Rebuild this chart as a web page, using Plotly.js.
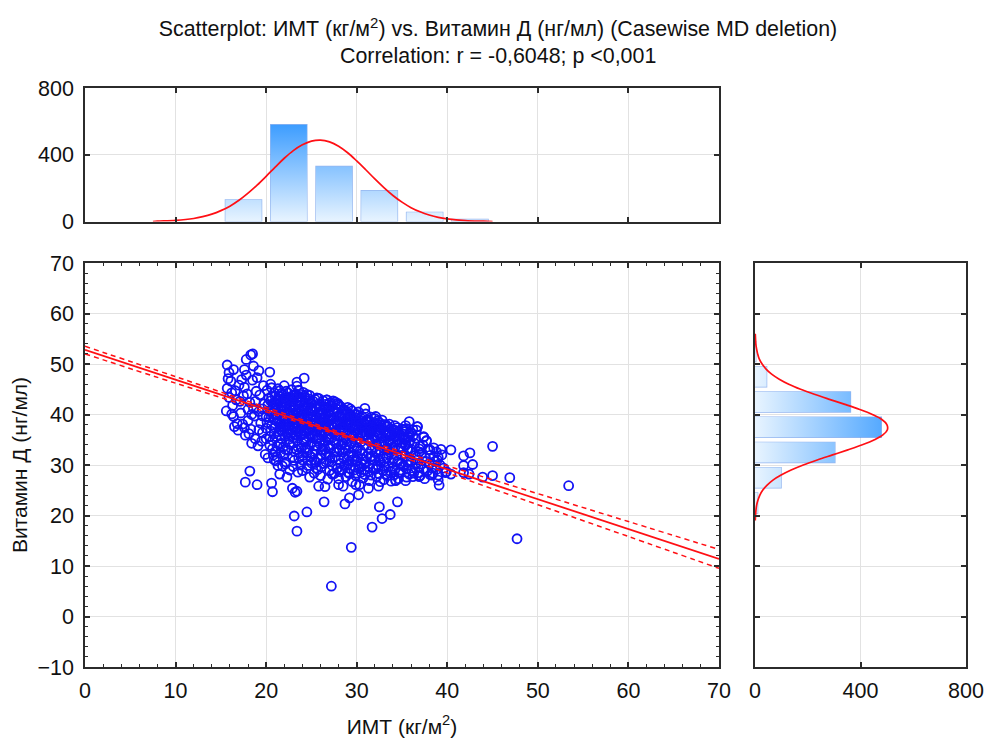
<!DOCTYPE html>
<html><head><meta charset="utf-8">
<script src="https://cdn.plot.ly/plotly-3.0.1.min.js"></script>
<style>html,body{margin:0;padding:0;background:#fff}#c{width:986px;height:738px}</style>
</head><body><div id="c"></div>
<script>
const bmi = [
15.7,15.9,16.1,16.3,16.6,16.8,17.1,17.3,17.6,17.9,
15.8,16.2,16.4,16.7,17.0,17.2,17.5,17.7,17.8,18.0,
16.5,16.9,17.4,17.6,18.1,18.2,18.4,18.5,18.7,18.9,
18.3,18.6,18.8,19.0,19.1,19.3,19.4,19.6,19.7,19.9,
19.2,19.5,19.8,20.0,20.1,20.2,20.3,20.4,20.6,20.7,
20.8,20.9,21.0,21.1,21.2,21.3,21.4,21.5,21.6,21.7,
20.5,20.8,21.0,21.2,21.4,21.6,21.8,21.9,22.0,22.1,
21.1,21.3,21.5,21.7,21.9,22.0,22.2,22.3,22.4,22.5,
20.3,20.7,21.2,21.6,22.1,22.3,22.6,22.7,22.8,22.9,
22.2,22.4,22.6,22.8,23.0,23.1,23.2,23.3,23.4,23.5,
22.5,22.7,22.9,23.0,23.2,23.3,23.5,23.6,23.7,23.8,
23.1,23.4,23.6,23.7,23.9,24.0,24.1,24.2,24.3,24.4,
23.8,23.9,24.0,24.2,24.3,24.5,24.6,24.7,24.8,24.9,
24.1,24.4,24.6,24.7,24.9,25.0,25.1,25.2,25.3,25.4,
24.5,24.8,25.0,25.2,25.4,25.5,25.6,25.7,25.8,25.9,
25.1,25.3,25.5,25.6,25.8,26.0,26.1,26.2,26.3,26.4,
25.7,25.9,26.0,26.2,26.4,26.5,26.6,26.7,26.8,26.9,
26.1,26.3,26.5,26.6,26.8,27.0,27.1,27.2,27.3,27.4,
26.7,26.9,27.0,27.2,27.3,27.5,27.6,27.7,27.8,27.9,
27.4,27.5,27.7,27.8,28.0,28.1,28.2,28.3,28.4,28.5,
27.9,28.0,28.2,28.3,28.5,28.6,28.7,28.8,28.9,29.0,
28.4,28.6,28.7,28.9,29.0,29.1,29.2,29.3,29.4,29.5,
29.0,29.2,29.3,29.5,29.6,29.7,29.8,29.9,30.0,30.1,
29.6,29.8,30.0,30.1,30.2,30.3,30.4,30.5,30.6,30.7,
30.2,30.4,30.6,30.8,30.9,31.0,31.1,31.2,31.3,31.4,
30.8,31.0,31.2,31.3,31.5,31.6,31.7,31.8,31.9,32.0,
31.5,31.7,31.9,32.1,32.2,32.3,32.4,32.5,32.6,32.7,
32.0,32.3,32.5,32.7,32.8,32.9,33.0,33.1,33.2,33.3,
33.0,33.2,33.4,33.5,33.6,33.7,33.8,33.9,34.0,34.1,
33.4,33.6,33.8,34.0,34.2,34.3,34.4,34.5,34.6,34.7,
34.2,34.4,34.6,34.8,34.9,35.0,35.1,35.2,35.3,35.4,
34.8,35.0,35.2,35.4,35.5,35.6,35.7,35.8,35.9,36.0,
35.5,35.8,36.0,36.1,36.2,36.3,36.5,36.6,36.8,37.0,
36.4,36.7,36.9,37.1,37.2,37.4,37.6,37.8,38.0,38.3,
38.1,38.4,38.5,38.6,38.8,39.0,39.2,39.4,39.6,39.8,
20.4,20.9,21.3,21.8,22.1,22.6,23.0,23.5,24.0,24.4,
21.0,21.5,22.0,22.4,22.9,23.3,23.8,24.2,24.7,25.2,
25.6,26.0,26.4,26.9,27.3,27.8,28.1,28.6,29.1,29.6,
21.7,22.3,22.8,23.3,23.9,24.4,25.0,25.5,26.1,26.7,
27.2,27.7,28.3,28.8,29.4,29.9,30.5,31.1,31.6,32.2,
20.1,20.6,21.1,21.6,22.1,22.6,23.1,23.6,24.1,24.6,
25.1,25.6,26.1,26.6,27.1,27.6,28.1,28.6,29.1,29.6,
30.1,30.6,31.1,31.6,32.1,32.6,33.1,33.6,34.1,34.6,
20.2,20.7,21.2,21.7,22.2,22.7,23.2,23.7,24.2,24.7,
25.2,25.7,26.2,26.7,27.2,27.7,28.2,28.7,29.2,29.7,
30.2,30.7,31.2,31.7,32.2,32.7,33.2,33.7,34.2,34.7,
20.9,21.4,21.9,22.4,22.9,23.4,23.9,24.4,24.9,25.4,
25.9,26.4,26.9,27.4,27.9,28.4,28.9,29.4,29.9,30.4,
22.0,22.5,23.0,23.5,24.0,24.5,25.0,25.5,26.0,26.5,
21.4,21.9,22.4,22.9,23.4,23.9,24.4,24.9,25.4,25.9,
26.4,26.9,27.4,27.9,28.4,28.9,29.4,29.9,30.4,30.9,
31.4,31.9,32.4,32.9,33.4,33.9,34.4,34.9,35.4,35.9,
19.6,20.0,20.5,21.0,21.5,22.0,22.5,23.0,23.5,24.0,
24.5,25.0,25.5,26.0,26.5,27.0,27.5,28.0,28.5,29.0,
29.5,30.0,30.5,31.0,31.5,32.0,32.5,33.0,33.5,34.0,
18.0,18.4,18.8,19.2,19.6,20.0,20.4,20.8,21.2,21.6,
23.3,23.7,24.1,24.5,24.9,25.3,25.7,26.1,26.5,26.9,
27.3,27.7,28.1,28.5,28.9,29.3,29.7,30.1,30.5,30.9,
31.3,31.7,32.1,32.5,32.9,33.3,33.7,34.1,34.5,34.9,
35.3,35.7,36.1,36.5,36.9,37.3,37.7,38.1,38.5,38.9,
20.6,21.0,21.4,21.8,22.2,22.6,23.0,23.4,23.8,24.2,
24.6,25.0,25.4,25.8,26.2,26.6,27.0,27.4,27.8,28.2,
28.6,29.0,29.4,29.8,30.2,30.6,31.0,31.4,31.8,32.2,
32.6,33.0,33.4,33.8,34.2,34.6,35.0,35.4,35.8,36.2,
20.9,21.8,22.6,23.5,24.0,24.8,25.3,26.0,26.8,27.3,
28.0,28.8,29.5,30.0,30.7,31.4,32.2,33.0,33.8,34.6,
35.5,36.2,37.0,37.5,38.3,21.3,22.2,23.0,23.8,24.6,
25.5,26.3,27.0,27.8,28.6,29.2,30.2,30.9,31.6,32.4,
33.2,34.0,34.8,35.7,36.5,
18.5,18.3,17.8,15.7,18.6,17.6,20.4,19.2,16.4,15.9,
24.2,23.4,22.0,20.5,26.7,27.6,15.6,16.2,27.4,27.9,
18.2,17.7,19.0,20.6,20.7,21.5,22.3,22.9,23.4,23.2,
26.4,24.5,23.1,23.4,27.2,29.4,31.7,32.8,33.7,32.5,
34.5,28.7,29.2,30.2,25.8,26.5,28.0,28.5,29.9,30.3,
31.3,32.4,32.6,35.4,34.3,36.9,45.0,40.4,42.5,41.8,
42.8,41.8,42.4,41.8,43.9,45.0,46.9,53.4,47.7,39.3,
38.8,39.0,37.4,37.7,36.7,37.9,36.9,39.9,40.4,39.1,
39.0,38.1,34.3,30.9,32.1,32.8,35.8,36.7,37.4,37.7,
35.6,37.9
];
const vitD = [
45.2,43.4,46.6,41.8,44.7,38.2,42.6,46.9,37.4,44.1,
47.1,44.3,39.6,42.9,45.8,40.3,43.7,35.9,47.8,38.8,
37.6,36.9,38.1,45.4,36.2,42.4,34.3,46.8,39.7,44.6,
37.1,41.2,35.2,47.3,33.8,43.9,38.3,36.4,45.7,32.1,
40.6,34.7,42.1,37.3,44.8,31.4,39.4,35.6,45.3,33.2,
41.3,36.2,43.6,30.8,38.7,45.1,34.1,40.2,32.4,44.2,
42.7,39.1,37.4,42.0,36.6,38.1,41.6,33.6,43.3,30.2,
40.0,43.0,44.7,35.2,39.4,37.0,44.6,41.1,32.9,43.2,
43.2,34.9,33.7,41.7,35.7,38.6,40.4,36.3,44.9,31.6,
42.2,39.9,37.8,42.6,34.4,43.9,40.9,38.2,45.6,36.7,
35.1,43.5,40.1,42.7,37.2,33.1,41.9,44.8,39.2,35.8,
30.9,42.8,38.0,43.4,41.0,36.1,44.4,39.5,33.3,42.1,
42.4,37.3,40.0,34.6,43.3,38.6,41.4,35.5,43.8,31.7,
37.7,40.7,29.9,43.1,39.3,42.2,36.0,40.6,33.8,43.0,
44.0,37.0,34.5,42.6,38.8,41.5,36.6,31.2,43.2,39.9,
41.2,37.9,30.5,43.3,35.3,41.9,38.3,33.0,42.7,36.4,
40.3,34.2,37.5,40.8,39.2,42.0,32.2,37.0,41.3,35.1,
29.6,40.1,34.8,41.4,38.7,42.3,36.1,39.7,31.3,41.0,
42.9,39.0,33.4,41.8,37.6,40.4,34.9,38.4,42.1,29.4,
36.3,28.3,41.2,32.6,39.8,37.1,41.6,34.0,38.6,40.9,
35.7,41.9,30.3,39.3,36.7,41.0,33.2,38.0,40.6,28.6,
29.1,35.4,39.4,36.2,40.2,31.9,38.5,41.1,34.3,37.3,
38.0,30.7,39.9,40.7,35.6,33.5,38.9,27.9,40.0,36.4,
39.1,36.9,32.8,38.7,40.5,29.7,37.7,34.6,39.6,31.1,
35.2,39.4,37.0,38.3,33.9,40.1,36.0,28.7,39.0,34.7,
30.1,37.9,38.6,32.2,37.4,39.5,35.0,29.3,38.2,33.6,
36.1,38.0,31.0,37.1,34.1,38.8,28.3,36.4,32.9,37.9,
39.2,30.0,38.4,35.3,37.3,28.9,36.8,33.1,38.0,31.4,
34.6,35.9,37.6,29.6,36.2,32.5,37.2,30.4,35.3,36.9,
27.9,38.1,34.4,37.0,29.0,36.4,32.0,37.4,34.9,28.4,
35.6,36.8,31.0,36.0,33.4,37.1,29.8,35.1,36.6,31.8,
28.6,34.3,36.9,33.9,37.2,30.6,35.6,28.2,32.7,36.4,
29.2,36.2,30.9,33.0,35.7,28.4,31.9,36.9,29.6,33.7,
34.3,31.0,28.5,30.2,32.4,29.2,31.4,28.8,30.3,29.4,
31.9,28.4,33.4,30.7,29.1,28.0,30.0,32.0,29.4,28.5,
40.7,44.3,41.2,43.9,40.1,42.9,41.4,43.5,42.9,38.9,
39.9,42.9,41.4,44.3,38.9,39.9,40.6,41.3,40.2,38.3,
39.3,40.3,41.5,40.4,39.1,40.2,38.6,37.9,39.6,37.7,
37.6,36.1,39.1,35.9,38.1,35.3,40.6,35.1,36.7,38.4,
38.1,36.6,37.4,35.1,35.9,38.0,38.3,37.4,36.6,35.9,
38.4,37.9,35.6,36.9,33.1,34.1,32.7,31.4,31.9,33.0,
32.3,33.8,35.0,30.6,33.9,31.6,33.0,31.2,33.3,31.7,
33.4,32.3,31.7,33.0,29.2,30.7,29.7,34.8,31.3,33.2,
41.9,40.2,39.3,39.8,38.0,41.6,35.9,37.1,37.4,36.8,
36.9,37.8,37.6,35.6,35.3,34.3,35.8,36.6,36.0,36.2,
37.2,35.7,35.1,36.9,38.3,34.1,36.6,35.0,33.4,35.7,
42.4,38.3,37.7,36.4,36.9,37.2,39.7,36.6,41.1,41.3,
41.1,38.0,37.4,37.6,38.3,40.1,39.0,38.2,39.4,36.0,
39.0,40.5,39.4,40.3,38.4,39.7,37.3,38.0,39.2,36.6,
43.7,42.3,37.3,42.0,34.8,33.3,34.6,34.1,35.7,36.7,
34.0,33.3,39.2,33.4,37.2,34.0,32.4,34.9,32.9,36.6,
37.2,35.6,37.6,31.7,33.4,33.1,35.1,31.9,35.2,34.9,
41.1,39.6,36.7,32.6,35.9,32.1,37.0,35.4,33.6,31.0,
32.4,30.4,33.0,31.3,33.1,30.8,32.6,31.1,32.6,30.0,
31.0,30.7,30.3,30.6,31.6,31.4,31.0,30.6,32.2,33.4,
41.0,40.0,42.6,37.0,39.7,35.2,33.9,32.0,31.6,34.3,
44.1,32.4,35.1,29.4,38.3,31.0,29.1,32.0,38.7,31.9,
29.9,35.9,28.7,34.3,31.0,29.3,29.0,31.6,28.6,28.1,
29.6,31.8,32.4,34.2,35.6,32.9,28.8,28.0,30.6,30.3,
34.1,33.1,28.9,35.3,33.2,34.0,30.7,33.0,31.6,31.0,
43.6,41.7,42.4,40.8,43.1,38.9,43.7,40.7,44.0,43.7,
42.7,41.0,37.2,42.1,39.1,38.1,40.9,42.2,41.1,39.4,
39.4,41.4,39.4,40.0,38.4,38.1,38.8,36.3,37.0,36.7,
36.0,38.0,35.8,35.7,37.8,36.4,35.6,37.8,34.4,37.0,
31.0,29.8,29.0,28.6,28.9,27.6,28.4,27.9,27.2,28.2,
27.3,27.7,26.7,28.4,27.4,26.9,27.7,27.1,26.8,27.3,
27.6,27.7,27.9,27.3,28.0,29.9,30.6,29.7,30.0,30.9,
29.4,30.3,28.9,29.3,29.9,28.3,29.3,29.0,28.0,29.6,
28.2,29.4,29.0,30.0,30.4,
52.0,51.8,50.9,49.8,49.6,48.9,48.4,48.7,48.9,48.3,
47.2,46.4,45.7,46.0,42.9,42.5,40.7,40.1,42.7,42.2,
28.8,26.6,26.1,26.4,24.7,28.2,27.6,25.4,24.8,24.6,
22.7,20.7,19.9,16.9,6.0,13.7,17.7,19.4,20.2,21.7,
22.7,22.3,23.5,24.1,25.8,25.7,26.1,25.8,26.1,26.1,
25.4,25.8,26.7,26.9,27.0,27.7,33.7,33.0,32.4,31.8,
30.1,29.9,28.2,28.5,27.6,27.9,27.5,25.9,15.4,33.1,
32.6,31.5,35.6,34.8,37.6,33.0,32.6,28.7,28.2,26.0,
27.0,28.1,26.9,41.2,39.6,38.9,38.6,37.6,35.5,34.8,
33.2,33.0
];
const fitX = [0,10,20,26,30,40,50,60,70];
const fitY = [52.8,46.89,40.97,37.42,35.06,29.14,23.23,17.32,11.4];
const upperY = [53.5,47.5,41.4,37.77,35.44,29.84,24.33,18.8,13.27];
const lowerY = [52.0,46.2,40.52,37.07,34.68,28.44,22.13,15.84,9.53];
const binCenters = [17.5,22.5,27.5,32.5,37.5,42.5];
const bmiCounts = [130,580,330,185,55,12];
const vitDCenters = [22.5,27.5,32.5,37.5,42.5,47.5,52.5];
const vitDCounts = [10,99,303,479,362,44,3];
const curveBmiX = [7.5,8,10,12,13,14,15,16,17,18,19,20,21,22,23,24,25,26,27,28,29,30,31,32,33,34,35,36,37,38,39,40,42,44,45];
const curveBmiY = [0,2,6.5,18,29,44,65,92,127,170,218,271,326,379,425,460,482,488,477,451,412,363,310,255,203,156,116,83,58,39,25,16,5.6,1.7,0];
const curveVitY = [19,20,21,22,23,24,25,26,27,28,29,30,31,32,33,34,35,36,37,38,39,40,41,42,43,44,45,46,47,48,49,50,51,52,53,54,55,56];
const curveVitX = [1,2,3.5,6,11,18,29,46,68,99,137,183,236,294,352,407,453,486,502,500,481,445,397,341,282,225,173,128,92,63,42,27,16,10,6,3,2,1];
const binWidth = 4;
const titleLine1 = 'Scatterplot: ИМТ (кг/м<sup>2</sup>) vs. Витамин Д (нг/мл) (Casewise MD deletion)';
const titleLine2 = 'Correlation: r = -0,6048; p &lt;0,001';
const xTitle = 'ИМТ (кг/м<sup>2</sup>)';
const yTitle = 'Витамин Д (нг/мл)';

const W=986,H=738;
const font='"Liberation Sans", Arial, sans-serif';
const ink='#111';
function poly(cs,vs,horizontal){
  const a=[],b=[];
  cs.forEach((c,i)=>{ if(!vs[i])return;
    const l=c-binWidth/2,r=c+binWidth/2;
    a.push(l,l,r,r,l,null); b.push(0,vs[i],vs[i],0,0,null);
  });
  return horizontal?{x:b,y:a}:{x:a,y:b};
}
const grad=[[0,'#e8f4ff'],[1,'#3d9dff']];
const pT=poly(binCenters,bmiCounts,false), pR=poly(vitDCenters,vitDCounts,true);
const outline={color:'rgba(60,120,225,0.55)',width:1.3};
const traces=[
 {type:'scatter',mode:'none',x:pT.x,y:pT.y,xaxis:'x2',yaxis:'y2',fill:'toself',fillcolor:'#bbddff',
  fillgradient:{type:'vertical',start:0,stop:580,colorscale:grad},hoverinfo:'skip'},
 {type:'bar',x:binCenters,y:bmiCounts,width:binWidth,xaxis:'x2',yaxis:'y2',
  marker:{color:'rgba(0,0,0,0)',line:outline}},
 {type:'scatter',mode:'lines',x:curveBmiX,y:curveBmiY,xaxis:'x2',yaxis:'y2',
  line:{color:'#ff0f14',width:1.7,shape:'spline'}},
 {type:'scatter',mode:'markers',x:bmi,y:vitD,xaxis:'x',yaxis:'y',
  marker:{symbol:'circle-open',size:9,color:'#1212f5',line:{width:1.8,color:'#1212f5'}}},
 {type:'scatter',mode:'lines',x:fitX,y:upperY,xaxis:'x',yaxis:'y',line:{color:'#ff0f14',width:1.5,dash:'5px,4px',shape:'spline'}},
 {type:'scatter',mode:'lines',x:fitX,y:lowerY,xaxis:'x',yaxis:'y',line:{color:'#ff0f14',width:1.5,dash:'5px,4px',shape:'spline'}},
 {type:'scatter',mode:'lines',x:fitX,y:fitY,xaxis:'x',yaxis:'y',line:{color:'#ff0f14',width:1.8}},
 {type:'scatter',mode:'none',x:pR.x,y:pR.y,xaxis:'x3',yaxis:'y3',fill:'toself',fillcolor:'#bbddff',
  fillgradient:{type:'horizontal',start:0,stop:560,colorscale:grad},hoverinfo:'skip'},
 {type:'bar',orientation:'h',x:vitDCounts,y:vitDCenters,width:binWidth,xaxis:'x3',yaxis:'y3',
  marker:{color:'rgba(0,0,0,0)',line:outline}},
 {type:'scatter',mode:'lines',x:curveVitX,y:curveVitY,xaxis:'x3',yaxis:'y3',
  line:{color:'#ff0f14',width:1.7,shape:'spline'}}
];
function ax(o){return Object.assign({
  showline:true,mirror:'allticks',linecolor:'#2b2b2b',linewidth:1.6,ticks:'inside',ticklen:5,tickwidth:1.5,tickcolor:'#2b2b2b',
  showgrid:true,gridcolor:'#e2e2e2',gridwidth:1,zeroline:false,automargin:false,
  tickfont:{family:font,size:21.5,color:ink}},o);}
const minorX={dtick:2,ticks:'inside',ticklen:3,tickwidth:1,tickcolor:'#2b2b2b',showgrid:false};
const dx=[85/W,719/W], dR=[755/W,966/W], dMain=[1-667/H,1-263/H], dTop=[1-221.5/H,1-88/H];
const layout={
 width:W,height:H,showlegend:false,paper_bgcolor:'#fff',plot_bgcolor:'#fff',
 margin:{l:0,r:0,t:0,b:0},barmode:'overlay',font:{family:font,color:ink},
 title:{text:titleLine1,font:{family:font,size:21.4,color:ink},x:498/W,xanchor:'center',y:1-29/H,yanchor:'middle'},
 xaxis:ax({domain:dx,range:[0,70],dtick:10,minor:minorX,anchor:'y',ticklabelstandoff:3,
   title:{text:xTitle,font:{family:font,size:21,color:ink},standoff:18}}),
 yaxis:ax({domain:dMain,range:[-10,70],dtick:10,minor:minorX,anchor:'x',ticklabelstandoff:5,
   title:{text:yTitle,font:{family:font,size:21,color:ink},standoff:4}}),
 xaxis2:ax({domain:dx,range:[0,70],dtick:10,anchor:'y2',showticklabels:false}),
 yaxis2:ax({domain:dTop,range:[0,800],tickvals:[0,400,800],anchor:'x2',ticklabelstandoff:5}),
 xaxis3:ax({domain:dR,range:[0,800],tickvals:[0,400,800],anchor:'y3',ticklabelstandoff:3}),
 yaxis3:ax({domain:dMain,range:[-10,70],dtick:10,anchor:'x3',showticklabels:false}),
 annotations:[{text:titleLine2,xref:'paper',yref:'paper',x:498/W,y:1-56/H,xanchor:'center',yanchor:'middle',showarrow:false,
   font:{family:font,size:21.4,color:ink}}]
};
Plotly.newPlot('c',traces,layout,{displayModeBar:false,responsive:false});
</script></body></html>
